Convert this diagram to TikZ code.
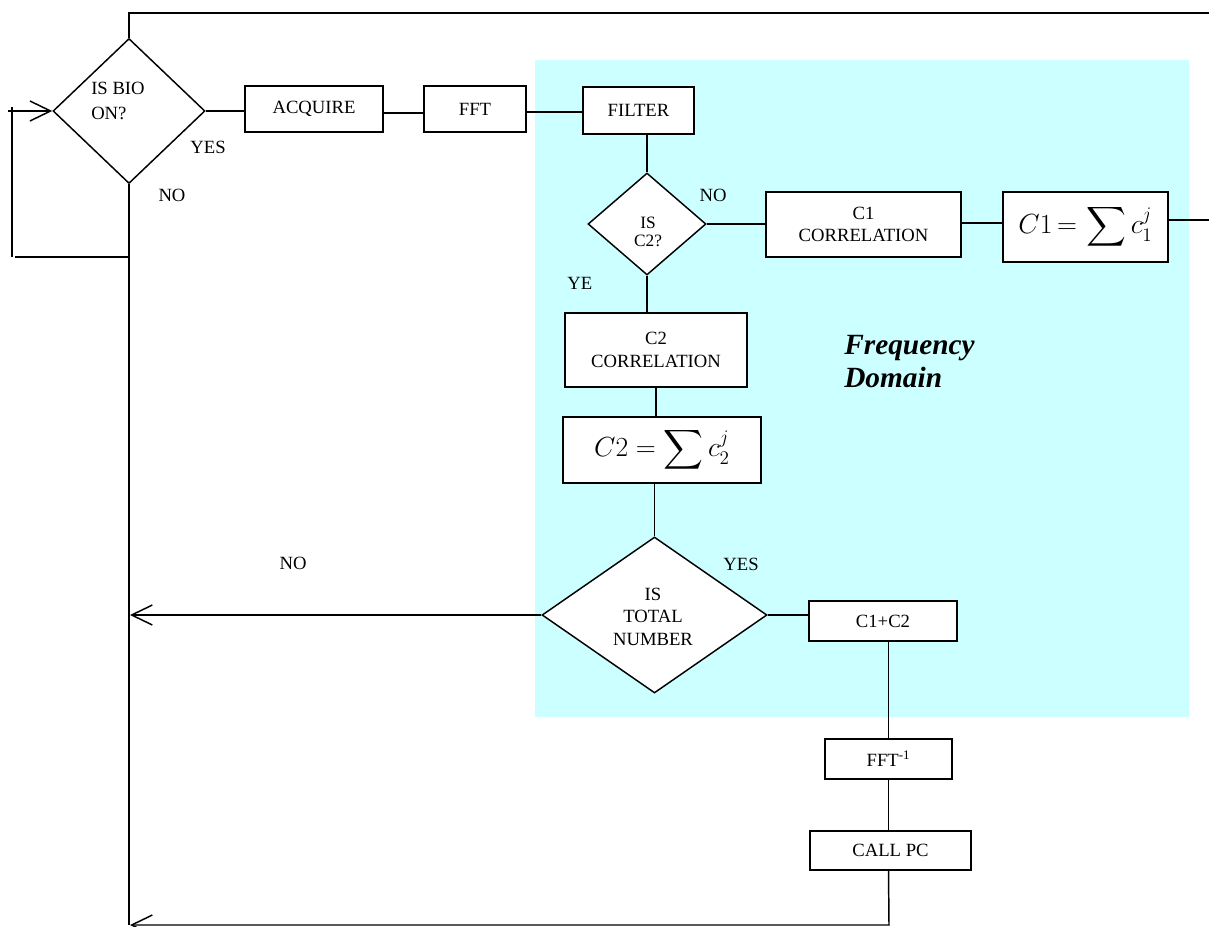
\documentclass[tikz,border=0pt]{standalone}
\usepackage{amsmath}
\usepackage{fontspec}
\setmainfont{Liberation Serif}
\usetikzlibrary{shapes.geometric,arrows.meta,calc}
\definecolor{freqcyan}{HTML}{CCFFFF}
\newcommand{\boxfont}{\fontsize{14}{17}\selectfont}
\begin{document}
\begin{tikzpicture}[x=0.75pt,y=-0.75pt,
  pbox/.style n args={2}{draw, line width=1.2pt, fill=white, rectangle, inner sep=0pt,
     minimum width=#1*0.75pt, minimum height=#2*0.75pt, align=center, font=\boxfont},
  dia/.style n args={2}{draw, diamond, line width=1.1pt, fill=white, inner sep=0pt,
     minimum width=#1*0.75pt, minimum height=#2*0.75pt},
  lbl/.style={inner sep=0pt, font=\boxfont, align=center},
  conn/.style={line width=1.1pt},
  arr/.style={conn, -{Straight Barb[length=15.5pt,width=15pt,line width=1.1pt]}},
  mathf/.style={font=\fontsize{20}{24}\selectfont}
]
\useasboundingbox (0,0) rectangle (1209,927);
\clip (0,0) rectangle (1209,927);
% frequency domain background
\fill[freqcyan] (535,60) rectangle (1189,717);

% decision nodes
\node[dia={152}{145}] (d1) at (129,111) {};
\node[dia={118}{102}] (d2) at (647,224) {};
\node[dia={225}{156}] (d3) at (654.5,615) {};

% process boxes
\node[pbox={138}{46}] (acq) at (314,109) {ACQUIRE};
\node[pbox={102}{46}] (fft) at (475,109) {FFT};
\node[pbox={111}{47}] (filt) at (638.5,110.5) {FILTER};
\node[pbox={195}{65}] (c1corr) at (863.5,224.5) {C1\\CORRELATION};
\node[pbox={165}{70}, mathf] (c1sum) at (1085.5,227) {$C1\,{=}\,\displaystyle\sum c_1^j$};
\node[pbox={182}{74}, font=\fontsize{14}{17.25}\selectfont] (c2corr) at (656,350) {C2\\CORRELATION};
\node[pbox={198}{66}, mathf] (c2sum) at (662,450) {$C2 = \displaystyle\sum c_2^j$};
\node[pbox={148}{40}] (c12) at (883,621) {C1+C2};
\node[pbox={127}{40}] (ffti) at (888.5,759) {FFT\textsuperscript{-1}};
\node[pbox={161}{39}] (callpc) at (890.5,850.5) {CALL PC};

% helper coordinates
\coordinate (mainv) at (130,617);
\coordinate (mainbot) at (130,925);
\coordinate (retcorner) at (889,925);
\coordinate (loopstart) at (128,257);
\coordinate (loopend) at (15,257);
\coordinate (loopbot) at (12,257);
\coordinate (looptop) at (12,107);
\coordinate (arrstart) at (8,111);
\coordinate (offright) at (1240,220);
\coordinate (topleft) at (129,13);

% texts in decisions
\node[lbl, anchor=west, align=left, font=\fontsize{14}{18.75}\selectfont] (tbio) at (91,100.5) {IS BIO\\ON?};
\node[lbl, font=\fontsize{13}{13.5}\selectfont] (tc2) at (648,232) {IS\\C2?};
\node[lbl, font=\fontsize{14}{16.9}\selectfont] (ttot) at (653,616.5) {IS\\TOTAL\\NUMBER};

% labels
\node[lbl] (yes1) at (208,147) {YES};
\node[lbl] (no1) at (172,195) {NO};
\node[lbl] (no2) at (713,195) {NO};
\node[lbl] (no3) at (293,563) {NO};
\begin{scope}
  \clip (550,265) rectangle (591.5,288);
  \node[lbl] (ye2) at (585,283) {YES};
\end{scope}
\begin{scope}
  \clip (700,557.5) rectangle (790,580);
  \node[lbl] (yes3) at (741,564) {YES};
\end{scope}
\node[inner sep=0pt, anchor=west, align=left, font=\fontsize{22}{24.75}\bfseries\itshape\selectfont] (freq) at (844,361.5) {Frequency\\Domain};

% connectors
\draw[conn] (d1.east) -- (d1.east -| acq.west);
\draw[conn] (acq.east |- 0,113) -- (fft.west |- 0,113);
\draw[conn] (fft.east |- 0,112) -- (filt.west |- 0,112);
\draw[conn] (d2.north |- filt.south) -- (d2.north);
\draw[conn] (d2.east) -- (d2.east -| c1corr.west);
\draw[conn] (c1corr.east |- 0,223) -- (c1sum.west |- 0,223);
\draw[conn] (c1sum.east |- offright) -- (offright) |- (topleft) -- (d1.north);
\draw[conn] (d2.south) -- (d2.south |- c2corr.north);
\draw[conn] (c2corr.south) -- (c2corr.south |- c2sum.north);
\draw[conn] (d3.north |- c2sum.south) -- (d3.north);
\draw[conn] (d3.east) -- (d3.east -| c12.west);
\draw[arr] (d3.west) -- (d3.west -| mainv);
\draw[conn] (ffti.north |- c12.south) -- (ffti.north);
\draw[conn] (ffti.south) -- (ffti.south |- callpc.north);
\draw[arr] (ffti.south |- callpc.south) -- (retcorner) -- (mainbot);
\draw[conn] (d1.south) -- (d1.south |- mainbot);
\draw[conn] (loopstart) -- (loopend);
\draw[conn] (loopbot) -- (looptop);
\draw[arr] (arrstart) -- (d1.west);
\end{tikzpicture}
\end{document}
